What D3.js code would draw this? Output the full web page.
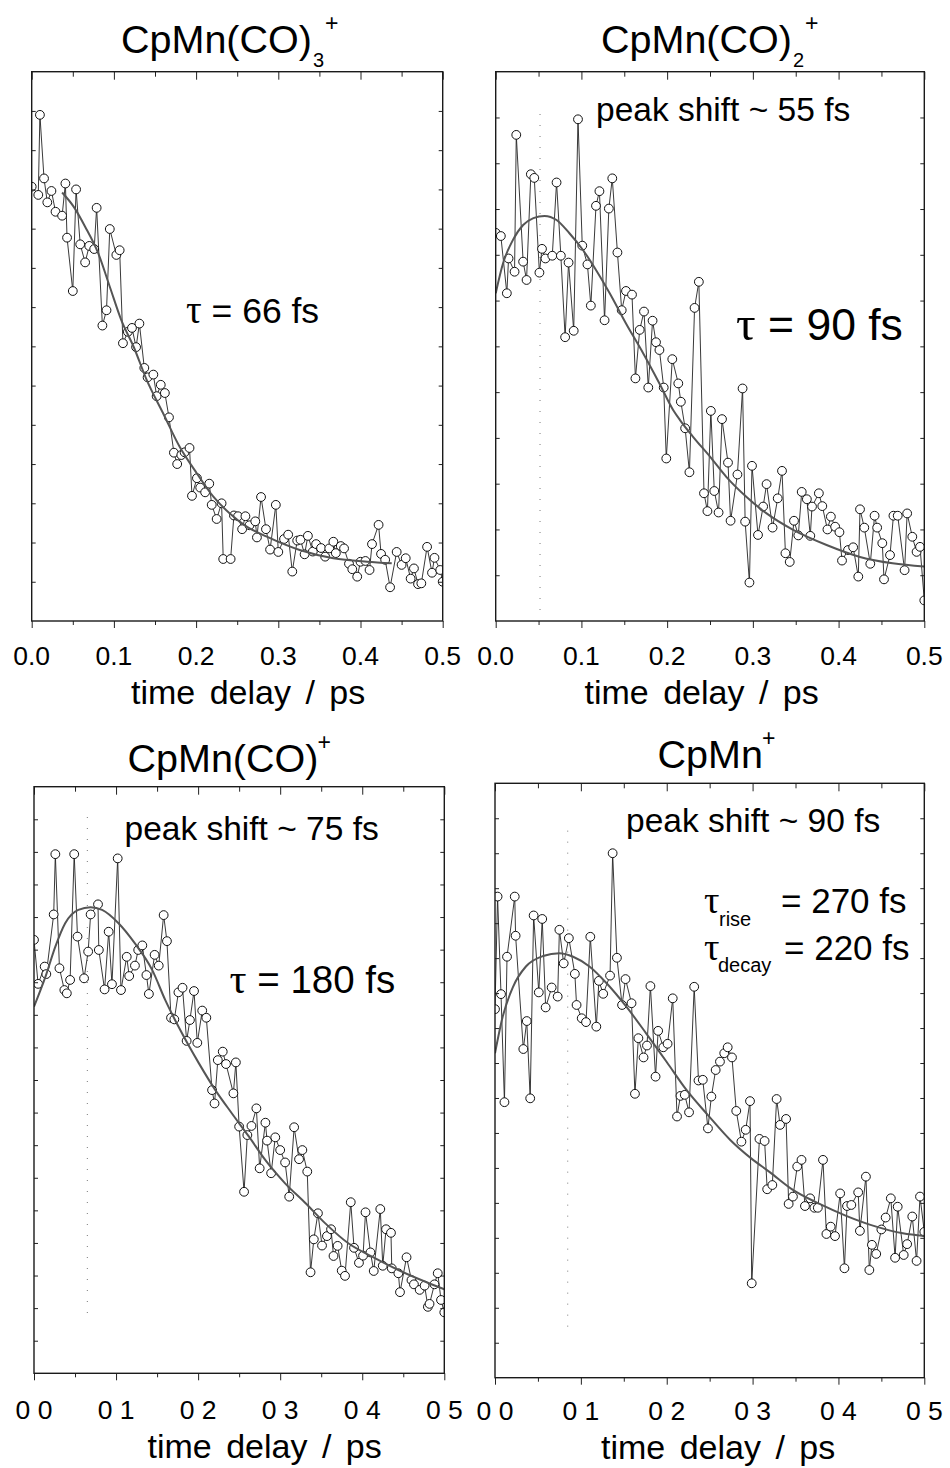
<!DOCTYPE html>
<html>
<head>
<meta charset="utf-8">
<script src="https://cdn.jsdelivr.net/npm/d3@7"></script>
<style>
  html, body { margin: 0; padding: 0; background: #fff; }
  svg text { font-family: "Liberation Sans", Arial, Helvetica, sans-serif; fill: #000; }
  svg tspan.greek { font-family: "Liberation Serif", "Times New Roman", serif; }
</style>
</head>
<body>
<svg id="fig" width="950" height="1468"></svg>
<script>
// ---------------------------------------------------------------
// Transient ion signals vs. pump-probe delay (arbitrary units)
// ---------------------------------------------------------------

// x-axis ticks (ps)
const majorTicks = [0, 0.1, 0.2, 0.3, 0.4, 0.5];
const minorTicks = [0.05, 0.15, 0.25, 0.35, 0.45];
const tickLabelsTop = ["0.0", "0.1", "0.2", "0.3", "0.4", "0.5"];
const tickLabelsBottom = ["0 0", "0 1", "0 2", "0 3", "0 4", "0 5"];

// CpMn(CO)3+  -- measured signal
const co3Time = [
  0.000,0.008,0.010,0.015,0.019,0.024,0.029,0.037,0.041,0.043,
  0.050,0.054,0.059,0.065,0.070,0.076,0.079,0.086,0.091,0.095,
  0.103,0.107,0.111,0.117,0.122,0.127,0.131,0.137,0.141,0.148,
  0.152,0.157,0.162,0.167,0.173,0.177,0.182,0.186,0.192,0.195,
  0.201,0.205,0.211,0.216,0.219,0.225,0.231,0.233,0.242,0.246,
  0.251,0.256,0.260,0.265,0.272,0.274,0.279,0.285,0.290,0.297,
  0.300,0.307,0.312,0.317,0.323,0.327,0.332,0.336,0.342,0.346,
  0.352,0.357,0.362,0.367,0.370,0.376,0.380,0.386,0.390,0.396,
  0.400,0.406,0.411,0.414,0.422,0.425,0.430,0.436,0.444,0.450,
  0.455,0.461,0.465,0.470,0.474,0.481,0.487,0.490,0.497,0.500];
const co3Signal = [
  11.07,10.86,12.90,11.28,10.67,10.96,10.43,10.33,11.15,9.77,
  8.41,11.00,9.60,9.14,9.56,9.48,10.53,7.53,7.92,9.99,
  9.33,9.45,7.08,7.37,7.47,6.98,7.58,6.45,6.21,6.28,
  5.73,6.02,5.81,5.19,4.29,4.00,4.23,4.30,4.41,3.19,
  3.64,3.40,3.28,3.50,2.96,2.60,3.00,1.58,1.58,2.69,
  2.67,2.34,2.67,2.44,2.54,2.13,3.16,2.34,1.82,2.96,
  1.76,2.09,2.20,1.26,2.05,2.07,1.70,2.17,1.77,1.96,
  1.86,1.64,1.85,2.02,1.73,1.91,1.85,1.46,1.32,1.13,
  1.51,1.53,1.30,1.96,2.45,1.71,1.56,0.86,1.76,1.43,
  1.60,1.08,1.34,0.94,0.96,1.89,1.23,1.61,1.30,1.00];
// CpMn(CO)3+  -- fit
const co3FitTime = [0.037,0.051,0.065,0.081,0.095,0.109,0.124,0.140,0.160,0.180,
  0.201,0.221,0.241,0.262,0.286,0.326,0.367,0.408,0.438];
const co3Fit = [10.92,10.56,10.05,9.37,8.52,7.67,6.99,6.14,5.29,4.44,
  3.76,3.17,2.74,2.40,2.15,1.81,1.60,1.51,1.47];

// CpMn(CO)2+  -- measured signal
const co2Time = [
  0.000,0.006,0.013,0.015,0.022,0.024,0.032,0.036,0.041,0.045,
  0.051,0.054,0.058,0.066,0.071,0.076,0.081,0.085,0.091,0.096,
  0.101,0.107,0.111,0.117,0.121,0.127,0.132,0.136,0.142,0.147,
  0.152,0.159,0.163,0.168,0.173,0.178,0.183,0.187,0.191,0.196,
  0.199,0.206,0.213,0.216,0.221,0.226,0.232,0.237,0.243,0.247,
  0.251,0.255,0.260,0.264,0.271,0.274,0.282,0.288,0.291,0.296,
  0.299,0.306,0.312,0.316,0.323,0.329,0.334,0.338,0.343,0.348,
  0.353,0.357,0.363,0.367,0.369,0.377,0.381,0.387,0.391,0.396,
  0.401,0.404,0.411,0.417,0.423,0.425,0.430,0.437,0.442,0.445,
  0.451,0.453,0.460,0.464,0.469,0.477,0.480,0.486,0.491,0.495,0.500];
const co2Signal = [
  8.48,8.41,7.16,7.92,7.63,10.62,7.85,7.45,9.76,9.68,
  7.61,8.13,7.92,7.98,9.58,7.98,6.20,7.83,6.34,10.96,
  8.20,7.79,6.89,9.07,9.39,6.57,9.01,9.67,8.05,6.79,
  7.21,7.13,5.30,6.36,6.76,5.10,6.56,6.09,5.92,5.10,
  3.55,5.72,5.19,4.79,4.21,3.25,6.84,7.41,2.79,2.40,
  4.59,2.84,2.37,4.41,3.46,2.19,3.20,5.08,2.17,0.84,
  3.39,1.88,2.50,2.99,2.04,2.68,3.28,1.48,1.29,2.19,
  1.87,2.82,2.66,1.86,2.50,2.79,2.51,2.00,2.28,2.06,
  1.94,1.32,1.55,1.61,0.97,2.44,2.04,1.25,2.30,2.04,
  1.70,0.91,1.44,2.30,2.30,1.11,2.35,1.84,1.51,1.62,0.45];
// CpMn(CO)2+  -- fit
const co2FitTime = [0.000,0.0085,0.020,0.032,0.044,0.057,0.071,0.086,0.102,0.117,
  0.133,0.152,0.172,0.191,0.207,0.215,0.230,0.250,0.269,0.292,
  0.316,0.347,0.386,0.425,0.463,0.500];
const co2Fit = [7.16,7.81,8.32,8.65,8.80,8.85,8.76,8.47,8.10,7.67,
  7.16,6.50,5.85,5.19,4.61,4.39,4.03,3.59,3.15,2.72,
  2.35,1.99,1.66,1.40,1.26,1.19];

// CpMn(CO)+  -- measured signal
const coTime = [
  0.000,0.005,0.013,0.015,0.024,0.026,0.031,0.037,0.040,0.044,
  0.049,0.053,0.061,0.066,0.069,0.078,0.079,0.086,0.091,0.095,
  0.102,0.106,0.113,0.116,0.123,0.127,0.132,0.137,0.140,0.147,
  0.152,0.158,0.162,0.167,0.171,0.176,0.181,0.186,0.190,0.195,
  0.199,0.205,0.210,0.217,0.220,0.224,0.230,0.234,0.243,0.246,
  0.250,0.256,0.260,0.265,0.271,0.275,0.282,0.284,0.289,0.294,
  0.300,0.306,0.311,0.317,0.323,0.327,0.333,0.337,0.341,0.346,
  0.351,0.357,0.362,0.365,0.370,0.375,0.379,0.386,0.390,0.396,
  0.401,0.404,0.410,0.414,0.422,0.425,0.429,0.435,0.436,0.444,
  0.446,0.454,0.460,0.463,0.470,0.476,0.480,0.482,0.488,0.492,0.496,0.500];
const coSignal = [
  13.30,11.95,12.48,12.25,14.08,15.93,12.43,11.76,11.66,12.07,
  15.93,13.40,12.12,12.94,14.08,14.39,12.99,11.78,13.55,11.94,
  15.80,11.76,12.78,12.19,12.51,12.99,13.13,12.22,11.64,12.84,
  12.51,14.06,13.26,10.91,10.86,11.69,11.83,10.20,10.84,11.73,
  10.14,11.13,10.91,8.69,8.28,9.61,9.87,9.49,8.59,9.54,
  7.57,5.57,7.31,7.59,8.13,6.29,7.69,7.14,6.14,7.24,
  6.85,6.47,5.42,7.55,6.57,6.85,6.19,3.10,4.11,4.91,
  3.92,4.21,4.42,3.60,3.91,3.15,2.99,5.25,3.85,3.39,
  3.61,4.94,3.71,3.14,5.04,3.30,4.42,4.31,3.22,3.07,
  2.49,3.56,2.86,2.73,2.56,2.69,2.04,2.13,2.73,3.07,2.25,1.87];
// CpMn(CO)+  -- fit
const coFitTime = [0.000,0.014,0.026,0.038,0.054,0.069,0.083,0.103,0.123,0.144,
  0.160,0.176,0.201,0.221,0.241,0.262,0.282,0.306,0.331,0.355,
  0.383,0.412,0.444,0.477,0.500];
const coFit = [11.25,12.17,13.09,13.81,14.22,14.30,14.22,13.81,13.19,12.38,
  11.45,10.64,9.51,8.69,7.98,7.26,6.54,5.83,5.22,4.60,
  3.99,3.58,3.17,2.81,2.58];

// CpMn+  -- measured signal
const mnTime = [
  0.000,0.003,0.007,0.011,0.014,0.023,0.024,0.033,0.037,0.041,
  0.045,0.051,0.055,0.059,0.066,0.073,0.075,0.080,0.086,0.093,
  0.095,0.101,0.106,0.111,0.118,0.121,0.126,0.134,0.137,0.142,
  0.148,0.152,0.159,0.163,0.167,0.173,0.177,0.181,0.187,0.190,
  0.196,0.201,0.207,0.212,0.216,0.221,0.226,0.232,0.237,0.242,
  0.248,0.252,0.257,0.262,0.267,0.271,0.276,0.281,0.287,0.292,
  0.297,0.299,0.308,0.314,0.317,0.323,0.328,0.332,0.339,0.342,
  0.347,0.352,0.357,0.361,0.367,0.372,0.376,0.382,0.386,0.391,
  0.396,0.402,0.407,0.410,0.415,0.423,0.425,0.432,0.436,0.439,
  0.444,0.450,0.455,0.461,0.466,0.469,0.476,0.480,0.486,0.491,
  0.495,0.500];
const mnSignal = [
  10.54,13.76,10.97,7.88,12.04,13.76,12.64,9.40,10.20,7.99,
  13.22,11.02,13.12,10.59,11.16,10.90,12.81,11.85,12.57,11.55,
  10.66,10.28,10.17,12.61,10.04,11.35,10.98,11.50,15.00,12.01,
  10.66,11.40,10.71,8.12,9.71,9.16,9.50,11.20,8.61,9.92,
  9.45,9.55,10.85,7.47,8.06,8.09,7.59,11.18,8.50,8.52,
  7.13,8.04,8.80,9.04,9.28,9.45,9.16,7.63,6.75,7.09,
  7.91,2.70,6.83,6.77,5.39,5.51,7.97,7.23,7.40,4.97,
  5.18,6.04,6.23,4.91,5.13,4.86,4.86,6.23,4.11,4.32,
  4.05,5.27,3.13,4.91,4.94,5.30,4.20,5.75,3.08,3.80,
  3.54,4.24,4.58,5.13,3.43,4.89,3.51,3.82,4.61,3.34,
  5.18,4.17];
// CpMn+  -- fit
const mnFitTime = [0.000,0.009,0.021,0.036,0.056,0.075,0.091,0.110,0.130,0.153,
  0.176,0.200,0.223,0.248,0.274,0.298,0.320,0.347,0.378,0.409,
  0.444,0.475,0.500];
const mnFit = [9.28,10.33,11.18,11.76,12.06,12.14,12.04,11.76,11.28,10.61,
  9.85,9.03,8.23,7.51,6.80,6.28,5.88,5.37,4.97,4.63,
  4.32,4.13,4.05];

// peak-shift markers: [delay (ps), lower end, upper end] in signal units
const co2Marker = [0.0517, 0.24, 11.2];
const coMarker  = [0.065, 1.85, 17.23];
const mnMarker  = [0.0847, 1.46, 15.87];

// ---------------------------------------------------------------
// drawing
// ---------------------------------------------------------------
const svg = d3.select("#fig");

function drawPanel(p, idx) {
  const x = d3.scaleLinear().domain([0, 0.5]).range([p.left, p.right]);
  const y = d3.scaleLinear().domain([0, p.yMax]).range([p.bottom, p.top]);
  const g = svg.append("g");

  const clipId = "clip" + idx;
  svg.append("clipPath").attr("id", clipId)
    .append("rect")
    .attr("x", p.left).attr("y", p.top)
    .attr("width", p.right - p.left).attr("height", p.bottom - p.top);

  const plot = g.append("g").attr("clip-path", `url(#${clipId})`);

  // dotted peak-shift marker
  if (p.marker) {
    plot.append("line")
      .attr("x1", x(p.marker[0])).attr("x2", x(p.marker[0]))
      .attr("y1", y(p.marker[1])).attr("y2", y(p.marker[2]))
      .attr("stroke", "#7a7a7a").attr("stroke-width", 1)
      .attr("stroke-dasharray", "1,10");
  }

  const pts = d3.zip(p.time, p.signal);

  // data connected by thin line
  plot.append("path")
    .datum(pts)
    .attr("fill", "none")
    .attr("stroke", "#222")
    .attr("stroke-width", 0.9)
    .attr("d", d3.line().x(d => x(d[0])).y(d => y(d[1])));

  plot.selectAll("circle.pt")
    .data(pts)
    .join("circle")
    .attr("class", "pt")
    .attr("cx", d => x(d[0]))
    .attr("cy", d => y(d[1]))
    .attr("r", 4.4)
    .attr("fill", "#fff")
    .attr("stroke", "#111")
    .attr("stroke-width", 1);

  // fitted curve
  plot.append("path")
    .datum(d3.zip(p.fitTime, p.fit))
    .attr("fill", "none")
    .attr("stroke", "#555")
    .attr("stroke-width", 2)
    .attr("d", d3.line().curve(d3.curveMonotoneX).x(d => x(d[0])).y(d => y(d[1])));

  // axes (ticks only, frame drawn separately)
  const yTicks = d3.range(1, p.yMax);
  const axes = [
    [d3.axisBottom(x).tickValues(majorTicks).tickSize(7), p.bottom, null],
    [d3.axisBottom(x).tickValues(minorTicks).tickSize(4), p.bottom, null],
    [d3.axisTop(x).tickValues(majorTicks).tickSize(-8), p.top, null],
    [d3.axisTop(x).tickValues(minorTicks).tickSize(-5), p.top, null],
    [d3.axisLeft(y).tickValues(yTicks).tickSize(-4), null, p.left],
    [d3.axisRight(y).tickValues(yTicks).tickSize(-4), null, p.right]
  ];
  axes.forEach(([ax, ty, tx]) => {
    const a = g.append("g")
      .attr("transform", ty !== null ? `translate(0,${ty})` : `translate(${tx},0)`)
      .call(ax.tickFormat(""));
    a.select(".domain").remove();
    a.selectAll(".tick line").attr("stroke", "#222").attr("stroke-width", 1);
  });

  // frame
  g.append("rect")
    .attr("x", p.left).attr("y", p.top)
    .attr("width", p.right - p.left).attr("height", p.bottom - p.top)
    .attr("fill", "none").attr("stroke", "#1a1a1a").attr("stroke-width", 1.4);

  // tick labels
  g.selectAll("text.tl")
    .data(majorTicks)
    .join("text")
    .attr("class", "tl")
    .attr("x", d => x(d))
    .attr("y", p.bottom + p.labelGap)
    .attr("text-anchor", "middle")
    .attr("font-size", 26.5)
    .text((d, i) => p.labels[i]);

  // axis title
  g.append("text")
    .attr("x", p.xTitleX)
    .attr("y", p.bottom + p.titleGap)
    .attr("font-size", 34)
    .attr("word-spacing", 5)
    .text("time delay / ps");

  // panel title with sub/superscripts
  const t = g.append("text")
    .attr("x", p.titleX).attr("y", p.titleY)
    .attr("font-size", 39.5);
  t.append("tspan").text(p.title[0]);
  let dy = 0;
  if (p.title[1]) {
    t.append("tspan").attr("dy", 14).attr("dx", 1).attr("font-size", 20).text(p.title[1]);
    dy = 14;
  }
  t.append("tspan").attr("dy", -22 - dy).attr("dx", p.title[1] ? 1 : -1)
    .attr("font-size", 23).text(p.title[2]);

  return { x, y, g };
}

const panels = [
  { title: ["CpMn(CO)", "3", "+"], titleX: 121, titleY: 52.7,
    time: co3Time, signal: co3Signal, fitTime: co3FitTime, fit: co3Fit,
    yMax: 14, marker: null, labels: tickLabelsTop, xTitleX: 131,
    labelGap: 44, titleGap: 83,
    left: 31.7, right: 442.7, top: 71.7, bottom: 621 },
  { title: ["CpMn(CO)", "2", "+"], titleX: 601, titleY: 52.7,
    time: co2Time, signal: co2Signal, fitTime: co2FitTime, fit: co2Fit,
    yMax: 12, marker: co2Marker, labels: tickLabelsTop, xTitleX: 584.5,
    labelGap: 44, titleGap: 83,
    left: 495.7, right: 924.3, top: 71.7, bottom: 621 },
  { title: ["CpMn(CO)", null, "+"], titleX: 127.5, titleY: 771.7,
    time: coTime, signal: coSignal, fitTime: coFitTime, fit: coFit,
    yMax: 18, marker: coMarker, labels: tickLabelsBottom, xTitleX: 147.5,
    labelGap: 46, titleGap: 85,
    left: 34, right: 444.3, top: 786.7, bottom: 1373.3 },
  { title: ["CpMn", null, "+"], titleX: 657.5, titleY: 768.3,
    time: mnTime, signal: mnSignal, fitTime: mnFitTime, fit: mnFit,
    yMax: 17, marker: mnMarker, labels: tickLabelsBottom, xTitleX: 601,
    labelGap: 42, titleGap: 81,
    left: 495, right: 924.3, top: 783.3, bottom: 1377.7 }
];

panels.forEach((p, i) => drawPanel(p, i));

// annotations; a leading τ is set in a serif face
function note(x, y, size, str, greek) {
  const t = svg.append("text").attr("x", x).attr("y", y).attr("font-size", size);
  if (greek) t.append("tspan").attr("class", "greek").attr("font-size", size * 1.1).text("τ");
  t.append("tspan").text(str);
  return t;
}
note(186, 322.5, 35.5, " = 66 fs", true);
note(596, 121, 33.5, "peak shift ~ 55 fs", false);
note(736, 340, 44.5, " = 90 fs", true);
note(124.5, 840, 33.5, "peak shift ~ 75 fs", false);
note(229.5, 993.3, 38.5, " = 180 fs", true);
note(626, 831.7, 33.5, "peak shift ~ 90 fs", false);
note(704, 913, 35, "", true);
note(719, 926, 20, "rise", false);
note(781, 913, 35, "= 270 fs", false);
note(704, 960, 35, "", true);
note(718, 972, 20, "decay", false);
note(784, 960, 35, "= 220 fs", false);
</script>
</body>
</html>
